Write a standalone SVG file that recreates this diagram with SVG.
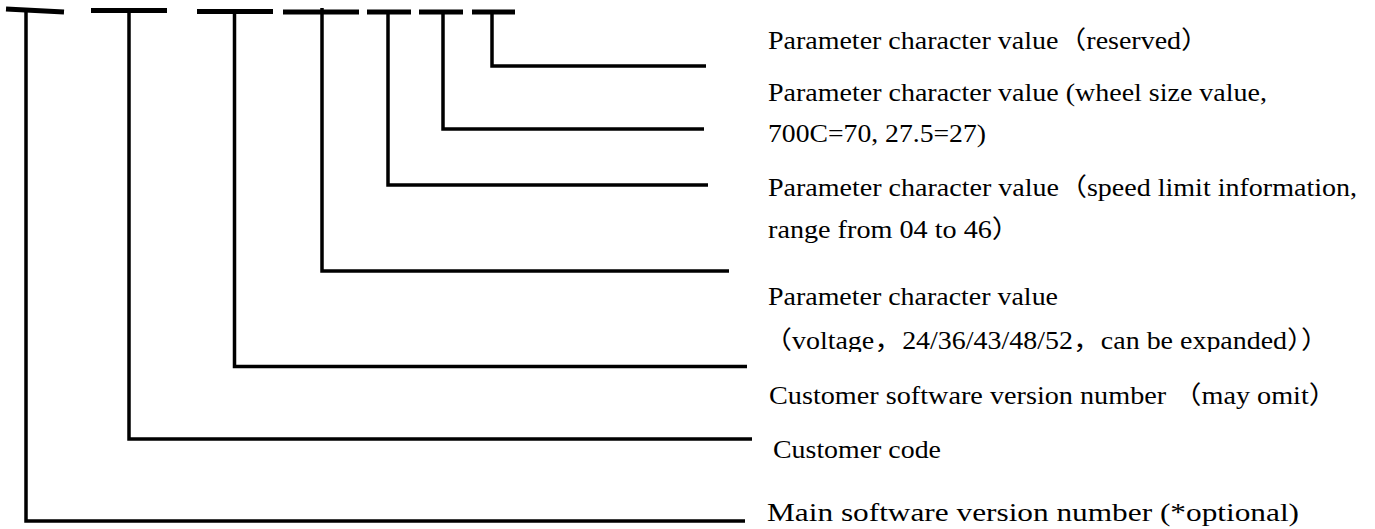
<svg xmlns="http://www.w3.org/2000/svg" width="1375" height="529" viewBox="0 0 1375 529">
  <style>
    .t { font-family: "Liberation Serif", "Noto Sans CJK SC", serif; font-size: 25px; fill: #000; }
    .dash { stroke: #000; stroke-width: 5; fill: none; }
    .lead { stroke: #000; stroke-width: 3.5; fill: none; stroke-linejoin: miter; stroke-linecap: butt; }
  </style>
  <defs>
    <clipPath id="clipVoltage">
      <rect x="700" y="300" width="675" height="52"/>
    </clipPath>
  </defs>
  <rect width="1375" height="529" fill="#fff"/>

  <g id="connectors">
    <!-- code position dashes -->
    <line class="dash" x1="6" y1="9" x2="64" y2="12" stroke-width="4.5"/>
    <line class="dash" x1="91" y1="10.5" x2="167" y2="10.5"/>
    <line class="dash" x1="197" y1="11.5" x2="273" y2="11.5"/>
    <line class="dash" x1="283" y1="12" x2="359" y2="12"/>
    <line class="dash" x1="367" y1="12" x2="411" y2="12"/>
    <line class="dash" x1="419" y1="12" x2="463" y2="12"/>
    <line class="dash" x1="472" y1="12" x2="515" y2="12"/>
    <!-- leader lines -->
    <polyline class="lead" points="26,8 26,521 745,521"/>
    <polyline class="lead" points="129,10 129,439 752,439"/>
    <polyline class="lead" points="234.5,11 234.5,366.5 747,366.5"/>
    <polyline class="lead" points="322,8 322,271 729,271"/>
    <polyline class="lead" points="388,12 388,185 708,185"/>
    <polyline class="lead" points="443,12 443,129 704,129"/>
    <polyline class="lead" points="492,12 492,66 706,66"/>
  </g>

  <g id="label-reserved">
    <text class="t" x="768" y="49" textLength="441" lengthAdjust="spacingAndGlyphs">Parameter character value（reserved）</text>
  </g>
  <g id="label-wheel-size">
    <text class="t" x="768" y="101" textLength="499" lengthAdjust="spacingAndGlyphs">Parameter character value (wheel size value,</text>
    <text class="t" x="768" y="142" textLength="218" lengthAdjust="spacingAndGlyphs">700C=70, 27.5=27)</text>
  </g>
  <g id="label-speed-limit">
    <text class="t" x="768" y="196" textLength="589" lengthAdjust="spacingAndGlyphs">Parameter character value（speed limit information,</text>
    <text class="t" x="768" y="238" textLength="252" lengthAdjust="spacingAndGlyphs">range from 04 to 46）</text>
  </g>
  <g id="label-voltage">
    <text class="t" x="768" y="305" textLength="290" lengthAdjust="spacingAndGlyphs">Parameter character value</text>
    <text class="t" x="764" y="349" textLength="565" lengthAdjust="spacingAndGlyphs" clip-path="url(#clipVoltage)">（voltage，24/36/43/48/52，can be expanded））</text>
  </g>
  <g id="label-customer-software">
    <text class="t" x="769" y="404" textLength="568" lengthAdjust="spacingAndGlyphs">Customer software version number （may omit）</text>
  </g>
  <g id="label-customer-code">
    <text class="t" x="773" y="458" textLength="168" lengthAdjust="spacingAndGlyphs">Customer code</text>
  </g>
  <g id="label-main-software">
    <text class="t" x="767" y="521" textLength="532" lengthAdjust="spacingAndGlyphs">Main software version number (*optional)</text>
  </g>
</svg>
